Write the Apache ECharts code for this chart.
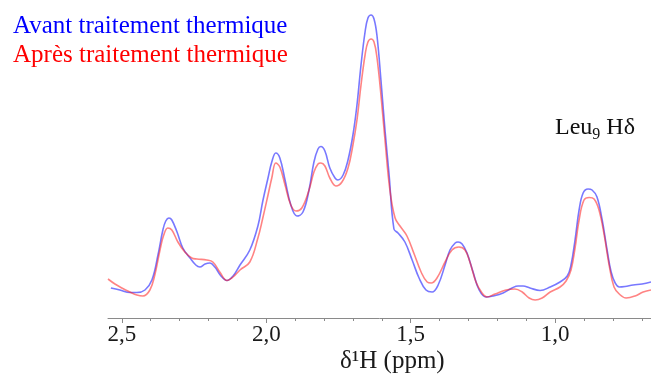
<!DOCTYPE html>
<html><head><meta charset="utf-8">
<script src="https://cdn.jsdelivr.net/npm/echarts@6/dist/echarts.min.js"></script>
<style>html,body{margin:0;padding:0;background:#fff}#c{width:651px;height:374px}</style>
</head><body><div id="c"></div>
<script>
// chemical shift (ppm) and intensity (arbitrary units)
const bluePpm = [2.538,2.507,2.472,2.448,2.420,2.396,2.375,2.358,2.348,2.337,2.327,2.309,2.289,2.264,2.244,2.230,2.212,2.195,2.178,2.157,2.136,2.115,2.091,2.057,2.029,2.012,1.994,1.981,1.967,1.953,1.935,1.915,1.894,1.873,1.852,1.835,1.821,1.811,1.797,1.780,1.762,1.752,1.734,1.717,1.700,1.686,1.672,1.658,1.648,1.637,1.627,1.617,1.603,1.589,1.575,1.558,1.544,1.520,1.495,1.471,1.447,1.426,1.405,1.381,1.364,1.346,1.336,1.322,1.305,1.284,1.263,1.239,1.215,1.180,1.149,1.128,1.111,1.087,1.052,1.017,0.983,0.958,0.945,0.931,0.917,0.903,0.886,0.872,0.855,0.837,0.820,0.806,0.792,0.778,0.758,0.730,0.699,0.668];
const blueInt = [30,28,25.5,25.5,28,38,63,88,97,100,98,86,70,60,53,51,54,55,51,42,37.5,42,53,68,92,117,140,156,165,160,138,113,102,106,128,156,169,171.5,167,150,140,138,143,158,183,213,253,286,300,303,299,283,238,188,144,89,85,76,58,40,28,26,33,53,68,75,76,74,65,46,28,21,22,25,30,32,32,30,27.5,31,36,42,53,78,108,125,129,128,121,98,68,46,35,31,31.5,33,34,36];
const redPpm = [2.548,2.524,2.500,2.472,2.448,2.427,2.403,2.386,2.368,2.355,2.341,2.327,2.306,2.282,2.258,2.240,2.206,2.185,2.161,2.136,2.115,2.091,2.057,2.029,2.012,1.994,1.981,1.967,1.953,1.935,1.915,1.897,1.877,1.852,1.835,1.821,1.811,1.797,1.780,1.759,1.738,1.717,1.700,1.686,1.672,1.658,1.648,1.637,1.627,1.617,1.603,1.589,1.572,1.554,1.537,1.513,1.488,1.464,1.443,1.429,1.409,1.381,1.357,1.333,1.312,1.295,1.274,1.253,1.236,1.208,1.170,1.139,1.114,1.090,1.069,1.045,1.017,0.983,0.962,0.945,0.931,0.917,0.900,0.882,0.865,0.848,0.830,0.813,0.796,0.778,0.754,0.723,0.695,0.668];
const redInt = [39,34,30,26,23,22,28,43,68,83,90,88,76,66,60,59,58,56,46,37.5,41,48,56,80,100,123,140,155,151,133,113,107,110,128,146,154,155,152,140,132,136,150,173,198,233,263,276,279,276,261,223,178,128,100,92,82,64,46,36,35,40,56,68,71,68,56,36,25,21,24,28,29,26,20,18,20,26,31,37,48,70,98,118,120.5,119,108,83,53,31,24,20,22,26,28];
const majorTicks = [2.5, 2.0, 1.5, 1.0];
const minorTicks = [2.5,2.4,2.3,2.2,2.1,2.0,1.9,1.8,1.7,1.6,1.5,1.4,1.3,1.2,1.1,1.0,0.9,0.8,0.7];
const seriesNames = ['Avant traitement thermique', 'Après traitement thermique'];
const peakLabel = ['Leu', '9', ' Hδ'];
const axisTitle = 'δ¹H (ppm)';

const FONT = 'Liberation Serif';
const xMin = 0.668, xMax = 2.548;
const zip = (a, b) => a.map((v, i) => [v, b[i]]);

const chart = echarts.init(document.getElementById('c'));
const axisBase = {
  type: 'value', inverse: true, min: xMin, max: xMax, gridIndex: 0,
  splitLine: { show: false }
};
chart.setOption({
  animation: false,
  grid: { left: 108, right: 0, top: 0, bottom: 56 },
  xAxis: [
    Object.assign({}, axisBase, {
      axisLine: { show: true, lineStyle: { color: '#8a8a8a', width: 1 } },
      axisTick: { show: true, inside: false, length: 3, customValues: minorTicks, lineStyle: { color: '#8a8a8a' } },
      axisLabel: { show: false }
    }),
    Object.assign({}, axisBase, {
      position: 'bottom',
      axisLine: { show: false },
      axisTick: { show: true, inside: false, length: 5, customValues: majorTicks, lineStyle: { color: '#8a8a8a' } },
      axisLabel: {
        show: true, customValues: majorTicks, margin: 5,
        fontFamily: FONT, fontSize: 23, color: '#1a1a1a',
        formatter: v => Number(v).toFixed(1).replace('.', ',')
      }
    })
  ],
  yAxis: { type: 'value', min: 0, max: 318, show: false },
  series: [
    { name: seriesNames[0], type: 'line', xAxisIndex: 0, data: zip(bluePpm, blueInt), smooth: 0.4, showSymbol: false,
      lineStyle: { color: 'rgba(30,30,255,0.6)', width: 1.6 } },
    { name: seriesNames[1], type: 'line', xAxisIndex: 0, data: zip(redPpm, redInt), smooth: 0.4, showSymbol: false,
      lineStyle: { color: 'rgba(255,30,30,0.55)', width: 1.6 } }
  ],
  graphic: [
    { type: 'text', left: 13, top: 14, style: { text: seriesNames[0], fontFamily: FONT, fontSize: 25, fill: '#0000ff' } },
    { type: 'text', left: 13, top: 43, style: { text: seriesNames[1], fontFamily: FONT, fontSize: 25, fill: '#ff0000' } },
    { type: 'text', left: 555, top: 116, style: {
        text: '{m|' + peakLabel[0] + '}{s|' + peakLabel[1] + '}{m|' + peakLabel[2] + '}',
        rich: {
          m: { fontFamily: FONT, fontSize: 24, lineHeight: 30, fill: '#111', verticalAlign: 'middle' },
          s: { fontFamily: FONT, fontSize: 16, lineHeight: 16, fill: '#111', verticalAlign: 'bottom' }
        } } },
    { type: 'text', left: 340, top: 349, style: { text: axisTitle, fontFamily: FONT, fontSize: 25, fill: '#1a1a1a' } }
  ]
});
</script>
</body></html>
